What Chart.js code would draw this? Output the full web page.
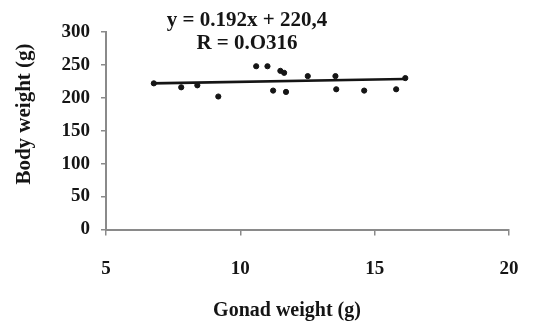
<!DOCTYPE html>
<html>
<head>
<meta charset="utf-8">
<script src="https://cdn.jsdelivr.net/npm/chart.js@4.4.1/dist/chart.umd.min.js"></script>
<style>
  html, body { margin: 0; padding: 0; background: #fff; }
  #wrap { width: 533px; height: 321px; position: relative; }
</style>
</head>
<body>
<div id="wrap"><canvas id="chart"></canvas></div>
<script>
// gonad weight (g) vs body weight (g)
const GONAD_WEIGHT = [6.78, 7.80, 8.40, 9.18, 10.59, 11.01, 11.22, 11.49, 11.63, 11.70, 12.51, 13.54, 13.57, 14.61, 15.80, 16.14];
const BODY_WEIGHT  = [222, 216, 219, 202, 248, 248, 211, 241, 238, 209, 233, 233, 213, 211, 213, 230];

// linear trend line ends
const TREND_X = [6.7, 16.1];
const TREND_Y = [222, 228.5];

const X_TICKS = [5, 10, 15, 20];
const Y_TICKS = [0, 50, 100, 150, 200, 250, 300];

const EQUATION = 'y = 0.192x + 220,4';
const R_TEXT   = 'R = 0.O316';
const X_TITLE  = 'Gonad weight (g)';
const Y_TITLE  = 'Body weight (g)';

const INK  = '#151515';
const AXIS = '#8a8a8a';
const SERIF = "'Liberation Serif', 'DejaVu Serif', serif";

const pts   = GONAD_WEIGHT.map((x, i) => ({ x, y: BODY_WEIGHT[i] }));
const trend = TREND_X.map((x, i) => ({ x, y: TREND_Y[i] }));

// equation and axis titles sit a bit off-centre in the original, so draw them here
const annotations = {
  id: 'annotations',
  afterDraw(chart) {
    const ctx = chart.ctx;
    ctx.save();
    ctx.fillStyle = INK;
    ctx.textAlign = 'center';
    ctx.textBaseline = 'middle';
    ctx.font = `bold 21px ${SERIF}`;
    ctx.fillText(EQUATION, 247, 21);
    ctx.fillText(R_TEXT, 247, 44);

    ctx.font = `bold 20px ${SERIF}`;
    ctx.fillText(X_TITLE, 287, 311);

    ctx.translate(25, 114);
    ctx.rotate(-Math.PI / 2);
    ctx.font = `bold 21px ${SERIF}`;
    ctx.fillText(Y_TITLE, 0, 0);
    ctx.restore();
  }
};

new Chart(document.getElementById('chart'), {
  type: 'scatter',
  data: {
    datasets: [
      {
        data: pts,
        backgroundColor: INK,
        borderColor: INK,
        pointRadius: 2.6,
        pointHoverRadius: 2.6
      },
      {
        data: trend,
        showLine: true,
        borderColor: INK,
        borderWidth: 2.6,
        pointRadius: 0
      }
    ]
  },
  options: {
    responsive: true,
    maintainAspectRatio: false,
    animation: false,
    layout: { padding: { left: 0, right: 24, top: 32, bottom: 0 } },
    plugins: { legend: { display: false }, tooltip: { enabled: false } },
    scales: {
      x: {
        type: 'linear',
        min: 5, max: 20,
        afterBuildTicks: s => { s.ticks = X_TICKS.map(v => ({ value: v })); },
        afterFit: s => { s.height = 91.5; s.paddingLeft = 0; s.paddingRight = 0; },
        grid: { drawOnChartArea: false, drawTicks: true, tickLength: 6, color: AXIS, lineWidth: 1.5 },
        border: { display: true, color: AXIS, width: 2 },
        ticks: { color: INK, padding: 22, font: { family: SERIF, size: 19, weight: 'bold' } }
      },
      y: {
        min: 0, max: 300,
        afterBuildTicks: s => { s.ticks = Y_TICKS.map(v => ({ value: v })); },
        afterFit: s => { s.width = 106; s.paddingTop = 0; s.paddingBottom = 0; },
        grid: { drawOnChartArea: false, drawTicks: true, tickLength: 5, color: AXIS, lineWidth: 1.5 },
        border: { display: true, color: AXIS, width: 2 },
        ticks: { color: INK, padding: 11, font: { family: SERIF, size: 19, weight: 'bold' } }
      }
    }
  },
  plugins: [annotations]
});
</script>
</body>
</html>
